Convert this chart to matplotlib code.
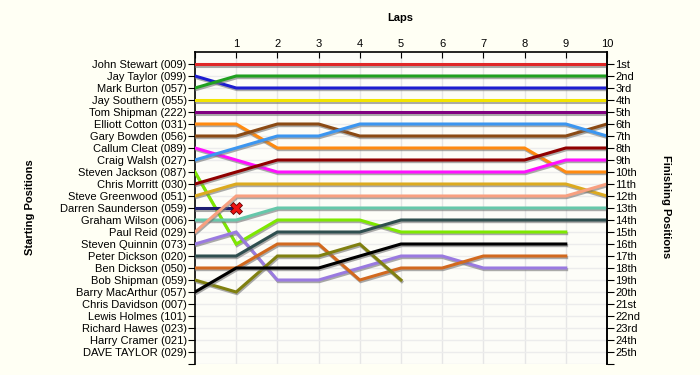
import matplotlib
matplotlib.use("Agg")
import matplotlib.pyplot as plt
import matplotlib.patheffects as pe

# --------------------------------------------------------------------------- #
# Data
# --------------------------------------------------------------------------- #
start_names = [
    "John Stewart (009)", "Jay Taylor (099)", "Mark Burton (057)",
    "Jay Southern (055)", "Tom Shipman (222)", "Elliott Cotton (031)",
    "Gary Bowden (056)", "Callum Cleat (089)", "Craig Walsh (027)",
    "Steven Jackson (087)", "Chris Morritt (030)", "Steve Greenwood (051)",
    "Darren Saunderson (059)", "Graham Wilson (006)", "Paul Reid (029)",
    "Steven Quinnin (073)", "Peter Dickson (020)", "Ben Dickson (050)",
    "Bob Shipman (059)", "Barry MacArthur (057)", "Chris Davidson (007)",
    "Lewis Holmes (101)", "Richard Hawes (023)", "Harry Cramer (021)",
    "DAVE TAYLOR (029)",
]
finish_labels = [
    "1st", "2nd", "3rd", "4th", "5th", "6th", "7th", "8th", "9th", "10th",
    "11th", "12th", "13th", "14th", "15th", "16th", "17th", "18th", "19th",
    "20th", "21st", "22nd", "23rd", "24th", "25th",
]
laps = list(range(0, 11))

# position per lap (lap 0 = grid position); shorter lists = lapped / retired
positions = {
    "John Stewart (009)":      [1, 1, 1, 1, 1, 1, 1, 1, 1, 1, 1],
    "Jay Taylor (099)":        [2, 3, 3, 3, 3, 3, 3, 3, 3, 3, 3],
    "Mark Burton (057)":       [3, 2, 2, 2, 2, 2, 2, 2, 2, 2, 2],
    "Jay Southern (055)":      [4, 4, 4, 4, 4, 4, 4, 4, 4, 4, 4],
    "Tom Shipman (222)":       [5, 5, 5, 5, 5, 5, 5, 5, 5, 5, 5],
    "Elliott Cotton (031)":    [6, 6, 8, 8, 8, 8, 8, 8, 8, 10, 10],
    "Gary Bowden (056)":       [7, 7, 6, 6, 7, 7, 7, 7, 7, 7, 6],
    "Callum Cleat (089)":      [8, 9, 10, 10, 10, 10, 10, 10, 10, 9, 9],
    "Craig Walsh (027)":       [9, 8, 7, 7, 6, 6, 6, 6, 6, 6, 7],
    "Steven Jackson (087)":    [10, 16, 14, 14, 14, 15, 15, 15, 15, 15],
    "Chris Morritt (030)":     [11, 10, 9, 9, 9, 9, 9, 9, 9, 8, 8],
    "Steve Greenwood (051)":   [12, 11, 11, 11, 11, 11, 11, 11, 11, 11, 12],
    "Darren Saunderson (059)": [13, 13],
    "Graham Wilson (006)":     [14, 14, 13, 13, 13, 13, 13, 13, 13, 13, 13],
    "Paul Reid (029)":         [15, 12, 12, 12, 12, 12, 12, 12, 12, 12, 11],
    "Steven Quinnin (073)":    [16, 15, 19, 19, 18, 17, 17, 18, 18, 18],
    "Peter Dickson (020)":     [17, 17, 15, 15, 15, 14, 14, 14, 14, 14, 14],
    "Ben Dickson (050)":       [18, 18, 16, 16, 19, 18, 18, 17, 17, 17],
    "Bob Shipman (059)":       [19, 20, 17, 17, 16, 19],
    "Barry MacArthur (057)":   [20, 18, 18, 18, 17, 16, 16, 16, 16, 16],
}
retired = ["Darren Saunderson (059)"]

colors = {
    "John Stewart (009)": "#e02828",
    "Jay Taylor (099)": "#1c1cd0",
    "Mark Burton (057)": "#20a020",
    "Jay Southern (055)": "#f2e400",
    "Tom Shipman (222)": "#800080",
    "Elliott Cotton (031)": "#ff8a10",
    "Gary Bowden (056)": "#8b4a14",
    "Callum Cleat (089)": "#ff10ff",
    "Craig Walsh (027)": "#3c96f0",
    "Steven Jackson (087)": "#7ee800",
    "Chris Morritt (030)": "#900000",
    "Steve Greenwood (051)": "#dcaa20",
    "Darren Saunderson (059)": "#1c1c70",
    "Graham Wilson (006)": "#66c8aa",
    "Paul Reid (029)": "#f8a080",
    "Steven Quinnin (073)": "#9a7ae0",
    "Peter Dickson (020)": "#2f4f4f",
    "Ben Dickson (050)": "#d2691e",
    "Bob Shipman (059)": "#808010",
    "Barry MacArthur (057)": "#000000",
}

# --------------------------------------------------------------------------- #
# Plot
# --------------------------------------------------------------------------- #
plt.rcParams["font.family"] = ["Liberation Sans", "DejaVu Sans"]

fig = plt.figure(figsize=(7, 3.75), dpi=100, facecolor="#fffff4")
ax = fig.add_axes([195 / 700, 1 - 364 / 375, 412 / 700, 312 / 375])
ax.set_facecolor("#fdfdf8")

n = len(start_names)
ax.set_xlim(0, 10)
ax.set_ylim(n + 1, 0)

# grid
for x in laps[1:]:
    ax.axvline(x, color="#e6e6e6", lw=1, zorder=0)
for y in range(1, n + 2):
    ax.axhline(y, color="#ececec", lw=1, zorder=0)

shadow = [pe.SimpleLineShadow(offset=(0.6, -1.2), shadow_color="0.45", alpha=0.6),
          pe.Normal()]
for name, pos in positions.items():
    ax.plot(laps[:len(pos)], pos, color=colors[name], lw=2.2,
            solid_joinstyle="miter", path_effects=shadow, zorder=3)

for name in retired:
    pos = positions[name]
    ax.plot(len(pos) - 1, pos[-1], marker="X", ms=9, color="#ee1111",
            mec="#660000", mew=0.6, zorder=5)

# axes, ticks, labels
for s in ["bottom"]:
    ax.spines[s].set_visible(False)
for s in ["left", "right", "top"]:
    ax.spines[s].set_linewidth(1.2)

ax.xaxis.tick_top()
ax.set_xticks(laps)
ax.set_xticklabels([""] + [str(v) for v in laps[1:]], fontsize=8)
ax.tick_params(axis="x", direction="in", length=4, pad=2)

ax.set_yticks(range(1, n + 2))
ax.set_yticklabels(start_names + [""], fontsize=8)
ax.tick_params(axis="y", direction="out", length=5, pad=1)

ax2 = ax.twinx()
ax2.set_ylim(n + 1, 0)
ax2.set_yticks(range(1, n + 2))
ax2.set_yticklabels(finish_labels + [""], fontsize=8)
ax2.tick_params(axis="y", direction="out", length=5, pad=1)
for s in ["bottom", "left", "top"]:
    ax2.spines[s].set_visible(False)
ax2.spines["right"].set_linewidth(1.2)

fig.text(400 / 700, 1 - 18 / 375, "Laps", ha="center", va="center",
         fontsize=8, fontweight="bold")
fig.text(30 / 700, 1 - 207 / 375, "Starting Positions", ha="center",
         va="center", rotation=90, fontsize=8, fontweight="bold")
fig.text(666 / 700, 1 - 207 / 375, "Finishing Positions", ha="center",
         va="center", rotation=-90, fontsize=8, fontweight="bold")

fig.savefig("out.png", dpi=100, facecolor=fig.get_facecolor())
